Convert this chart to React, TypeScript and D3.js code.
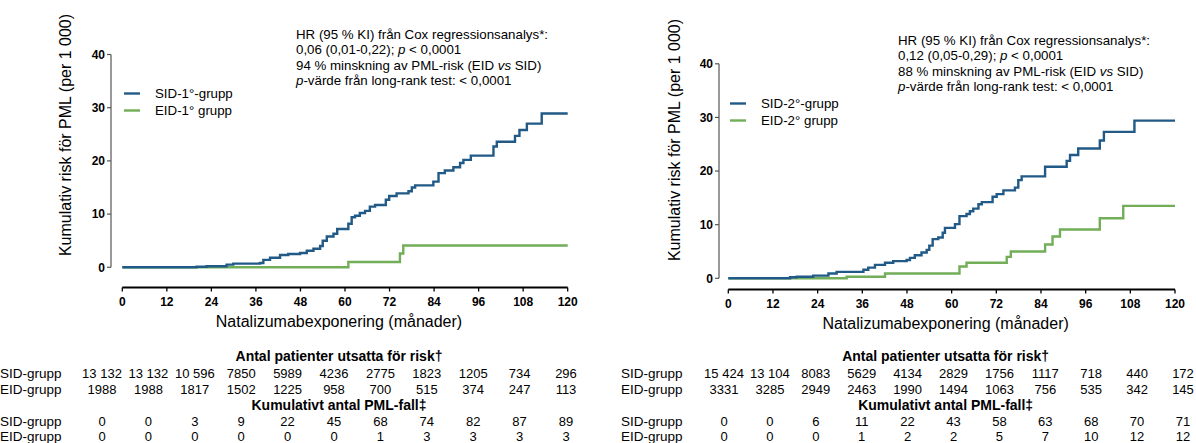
import React from "react";
import * as d3 from "d3";

// months on the x axis
const months = [0, 12, 24, 36, 48, 60, 72, 84, 96, 108, 120];
const yTicks = [0, 10, 20, 30, 40];

// step curves: [month, cumulative risk per 1000]
const sid1: [number, number][] = [
  [0, 0], [20, 0.1], [22.7, 0.2], [28.1, 0.5], [29.9, 0.7], [37.1, 0.8], [38, 1.4], [39.8, 1.8],
  [42.5, 2.3], [44.7, 2.5], [47.9, 2.7], [49.7, 3.1], [51.5, 3.5], [53.3, 4.0], [54, 5.0], [55.1, 5.8],
  [56.9, 6.3], [57.9, 7.2], [60.9, 8.2], [61.8, 9.4], [62.7, 9.7], [64, 10.2], [65.4, 10.6], [66.7, 11.4],
  [68.1, 11.7], [71, 12.7], [71.9, 13.4], [73.9, 13.9], [77.1, 14.3], [78, 15.0], [78.9, 15.4], [83.8, 16.1],
  [85.2, 17.7], [86.9, 18.2], [89.2, 18.8], [91, 19.6], [91.9, 20.2], [93.9, 21], [100, 22.7], [100.9, 23.6],
  [105.8, 24.7], [107, 25.8], [109, 27.0], [113, 28.9], [120, 28.9],
];
const eid1: [number, number][] = [[0, 0], [60.9, 1.0], [74.8, 2.6], [75.7, 4.1], [120, 4.1]];

const sid2: [number, number][] = [
  [0, 0], [16.6, 0.2], [18.4, 0.3], [22.8, 0.5], [26.9, 0.9], [29.1, 1.2], [36.3, 1.6], [37.6, 2.0],
  [39.4, 2.5], [42.1, 2.9], [44.3, 3.2], [47.9, 3.4], [48.8, 3.8], [50.1, 4.3], [51.9, 4.8], [53.3, 5.3],
  [54, 6.1], [54.9, 7.3], [56.4, 7.6], [57.6, 8.5], [58.2, 9.4], [60.9, 10.1], [62.1, 11.6], [64, 12.0],
  [64.9, 12.5], [65.8, 13.0], [67.2, 13.8], [68.1, 14.2], [71, 15.2], [72.1, 15.7], [73.9, 16.4], [77, 16.9],
  [77.9, 18.3], [78.8, 19.0], [85.1, 20.8], [90.9, 21.9], [91.8, 23.0], [94, 24.2], [99.8, 25.7], [100.9, 27.3],
  [109.1, 29.4], [120, 29.4],
];
const eid2: [number, number][] = [
  [0, 0], [31.8, 0.3], [42.1, 0.9], [62.1, 2.2], [64, 2.9], [74.8, 4.0], [75.9, 5.0], [85.1, 6.3],
  [87.1, 7.8], [89.1, 9.1], [99.8, 11.2], [106.1, 13.5], [120, 13.5],
];

// tables under each chart
const atRiskSid1 = ["13 132", "13 132", "10 596", "7850", "5989", "4236", "2775", "1823", "1205", "734", "296"];
const atRiskEid1 = ["1988", "1988", "1817", "1502", "1225", "958", "700", "515", "374", "247", "113"];
const casesSid1 = ["0", "0", "3", "9", "22", "45", "68", "74", "82", "87", "89"];
const casesEid1 = ["0", "0", "0", "0", "0", "0", "1", "3", "3", "3", "3"];

const atRiskSid2 = ["15 424", "13 104", "8083", "5629", "4134", "2829", "1756", "1117", "718", "440", "172"];
const atRiskEid2 = ["3331", "3285", "2949", "2463", "1990", "1494", "1063", "756", "535", "342", "145"];
const casesSid2 = ["0", "0", "6", "11", "22", "43", "58", "63", "68", "70", "71"];
const casesEid2 = ["0", "0", "0", "1", "2", "2", "5", "7", "10", "12", "12"];

const hr1 = ["0,06 (0,01-0,22)", "94"];
const hr2 = ["0,12 (0,05-0,29)", "88"];

const BLUE = "#215a86";
const GREEN = "#72ad58";
const FONT = "'Liberation Sans', Arial, sans-serif";

type PanelProps = {
  sid: [number, number][];
  eid: [number, number][];
  legend: [string, string];
  hr: string[];
  tables: string[][];
  xRange: [number, number];
  yRange: [number, number];
  yAxisX: number;
  xAxisY: number;
  yTitle: [number, number];
  note: [number, number];
  legendPos: [number, number];
  rowLabelX: number;
  colRange: [number, number];
};

function Panel(p: PanelProps) {
  const x = d3.scaleLinear().domain([0, 120]).range(p.xRange);
  const y = d3.scaleLinear().domain([0, 40]).range(p.yRange);
  const line = d3
    .line<[number, number]>()
    .x((d) => x(d[0]))
    .y((d) => y(d[1]))
    .curve(d3.curveStepAfter);
  const col = d3.scalePoint<number>().domain(months.map((_, i) => i)).range(p.colRange);
  const titleX = (p.xRange[0] + p.xRange[1]) / 2 - 6;
  const rowY = [356, 373, 389, 405, 421, 436.5];
  const rowLabels = ["SID-grupp", "EID-grupp"];

  return (
    <g fontFamily={FONT}>
      {/* y axis */}
      <line x1={p.yAxisX} x2={p.yAxisX} y1={y(40)} y2={y(0)} stroke="#555" strokeWidth={1.2} />
      {yTicks.map((t) => (
        <g key={t} transform={`translate(${p.yAxisX},${y(t)})`}>
          <line x1={-4} x2={0} stroke="#555" strokeWidth={1.2} />
          <text x={-6} dy="0.35em" textAnchor="end" fontSize={12} fontWeight="bold">{t}</text>
        </g>
      ))}
      <text
        transform={`translate(${p.yTitle[0]},${p.yTitle[1]}) rotate(-90)`}
        textAnchor="middle"
        dy="0.35em"
        fontSize={16}
      >
        Kumulativ risk för PML (per 1 000)
      </text>

      {/* x axis */}
      <line x1={x(0)} x2={x(120)} y1={p.xAxisY} y2={p.xAxisY} stroke="#000" strokeWidth={2} />
      {months.map((m) => (
        <g key={m} transform={`translate(${x(m)},${p.xAxisY})`}>
          <line y1={0} y2={4} stroke="#000" strokeWidth={1.3} />
          <text y={14} dy="0.35em" textAnchor="middle" fontSize={12} fontWeight="bold">{m}</text>
        </g>
      ))}
      <text x={titleX} y={p.xAxisY + 34} dy="0.35em" textAnchor="middle" fontSize={16}>
        Natalizumabexponering (månader)
      </text>

      {/* curves */}
      <path d={line(p.eid) ?? ""} fill="none" stroke={GREEN} strokeWidth={2.4} />
      <path d={line(p.sid) ?? ""} fill="none" stroke={BLUE} strokeWidth={2.4} />

      {/* legend */}
      {[BLUE, GREEN].map((c, i) => (
        <g key={c} transform={`translate(${p.legendPos[0]},${p.legendPos[1] + i * 17})`}>
          <line x1={0} x2={16} stroke={c} strokeWidth={2.4} />
          <text x={31} dy="0.35em" fontSize={13.3}>{p.legend[i]}</text>
        </g>
      ))}

      {/* statistics note */}
      <g transform={`translate(${p.note[0]},${p.note[1]})`} fontSize={13.3}>
        <text y={0} dy="0.35em">HR (95 % KI) från Cox regressionsanalys*:</text>
        <text y={15.5} dy="0.35em">
          {p.hr[0]}; <tspan fontStyle="italic">p</tspan> &lt; 0,0001
        </text>
        <text y={31} dy="0.35em">
          {p.hr[1]} % minskning av PML-risk (EID <tspan fontStyle="italic">vs</tspan> SID)
        </text>
        <text y={46.5} dy="0.35em">
          <tspan fontStyle="italic">p</tspan>-värde från long-rank test: &lt; 0,0001
        </text>
      </g>

      {/* tables */}
      <text x={titleX} y={rowY[0]} dy="0.35em" textAnchor="middle" fontSize={14} fontWeight="bold">
        Antal patienter utsatta för risk†
      </text>
      <text x={titleX} y={rowY[3]} dy="0.35em" textAnchor="middle" fontSize={14} fontWeight="bold">
        Kumulativt antal PML-fall‡
      </text>
      {p.tables.map((row, r) => {
        const yy = rowY[r < 2 ? r + 1 : r + 2];
        return (
          <g key={r} fontSize={13}>
            <text x={p.rowLabelX} y={yy} dy="0.35em" fontSize={13.5}>{rowLabels[r % 2]}</text>
            {row.map((v, i) => (
              <text key={i} x={col(i)} y={yy} dy="0.35em" textAnchor="middle">{v}</text>
            ))}
          </g>
        );
      })}
    </g>
  );
}

export default function App() {
  return (
    <svg
      width={1196}
      height={443}
      style={{ position: "absolute", left: 0, top: 0, background: "#fff" }}
    >
      <Panel
        sid={sid1}
        eid={eid1}
        legend={["SID-1°-grupp", "EID-1° grupp"]}
        hr={hr1}
        tables={[atRiskSid1, atRiskEid1, casesSid1, casesEid1]}
        xRange={[122.3, 567.7]}
        yRange={[267.3, 54.5]}
        yAxisX={111}
        xAxisY={287.5}
        yTitle={[65, 135]}
        note={[296, 34]}
        legendPos={[124, 93.5]}
        rowLabelX={0}
        colRange={[102, 566]}
      />
      <Panel
        sid={sid2}
        eid={eid2}
        legend={["SID-2°-grupp", "EID-2° grupp"]}
        hr={hr2}
        tables={[atRiskSid2, atRiskEid2, casesSid2, casesEid2]}
        xRange={[728.3, 1175]}
        yRange={[278.3, 63.8]}
        yAxisX={719}
        xAxisY={289.5}
        yTitle={[674, 140]}
        note={[898, 40]}
        legendPos={[730, 103.5]}
        rowLabelX={621}
        colRange={[724, 1183]}
      />
    </svg>
  );
}
